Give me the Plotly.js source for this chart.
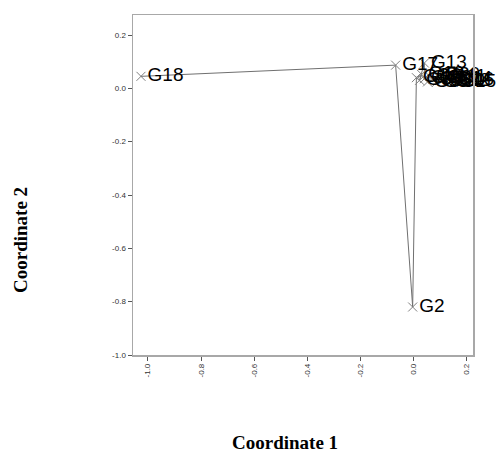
<!DOCTYPE html>
<html>
<head>
<meta charset="utf-8">
<script src="https://cdn.plot.ly/plotly-3.0.1.min.js"></script>
<style>html,body{margin:0;padding:0;background:#fff;}#chart{width:497px;height:452px;}</style>
</head>
<body>
<div id="chart"></div>
<script>
// Genotype labels in path order, with their coordinates
const labels = ["G18", "G17", "G2", "G1", "G19", "G3", "G13", "G4", "G6", "G5", "G7", "G20", "G8", "G9", "G10", "G11", "G12", "G14", "G16", "G15"];
const coord1 = [-1.026, -0.068, -0.004, 0.010, 0.030, 0.022, 0.040, 0.040, 0.060, 0.052, 0.072, 0.090, 0.085, 0.098, 0.108, 0.118, 0.126, 0.135, 0.142, 0.150];
const coord2 = [0.045, 0.087, -0.820, 0.040, 0.052, 0.030, 0.095, 0.036, 0.045, 0.024, 0.034, 0.048, 0.022, 0.036, 0.028, 0.042, 0.026, 0.034, 0.030, 0.022];

const xTicks = [-1.0, -0.8, -0.6, -0.4, -0.2, 0.0, 0.2];
const yTicks = [-1.0, -0.8, -0.6, -0.4, -0.2, 0.0, 0.2];
const tickText = v => v.toFixed(1);

const W = 497, H = 452, L = 133, R = 24, T = 15, B = 97;
const pw = W - L - R, ph = H - T - B;

const trace = {
  x: coord1, y: coord2, text: labels,
  type: "scatter", mode: "lines+markers+text",
  textposition: "middle right",
  textfont: {family: "Liberation Sans, Arial, sans-serif", size: 19, color: "#000"},
  line: {color: "#707070", width: 1},
  marker: {symbol: "x-thin-open", size: 9, color: "#808080", line: {color: "#808080", width: 1}},
  cliponaxis: false,
  hoverinfo: "none"
};

const axisCommon = {
  showgrid: false, zeroline: false,
  showline: true, linecolor: "#a8a8a8", linewidth: 1.5, mirror: true,
  ticks: "outside", ticklen: 4, tickcolor: "#555", tickwidth: 1,
  tickfont: {family: "Liberation Sans, Arial, sans-serif", size: 8, color: "#333"},
  tickmode: "array"
};

const layout = {
  width: W, height: H,
  margin: {l: L, r: R, t: T, b: B, pad: 0},
  paper_bgcolor: "#fff", plot_bgcolor: "#fff",
  showlegend: false,
  xaxis: Object.assign({}, axisCommon, {
    range: [-1.056, 0.223], tickvals: xTicks, ticktext: xTicks.map(tickText), tickangle: -90
  }),
  yaxis: Object.assign({}, axisCommon, {
    range: [-1.0, 0.275], tickvals: yTicks, ticktext: yTicks.map(tickText)
  }),
  annotations: [
    {text: "<b>Coordinate 1</b>", xref: "paper", yref: "paper",
     x: (285 - L) / pw, y: (H - B - 442) / ph, xanchor: "center", yanchor: "middle",
     showarrow: false, font: {family: "Liberation Serif, Times New Roman, serif", size: 19, color: "#000"}},
    {text: "<b>Coordinate 2</b>", xref: "paper", yref: "paper",
     x: (20 - L) / pw, y: (H - B - 240) / ph, xanchor: "center", yanchor: "middle", textangle: -90,
     showarrow: false, font: {family: "Liberation Serif, Times New Roman, serif", size: 19, color: "#000"}}
  ]
};

Plotly.newPlot("chart", [trace], layout, {staticPlot: true, displayModeBar: false});
</script>
</body>
</html>
